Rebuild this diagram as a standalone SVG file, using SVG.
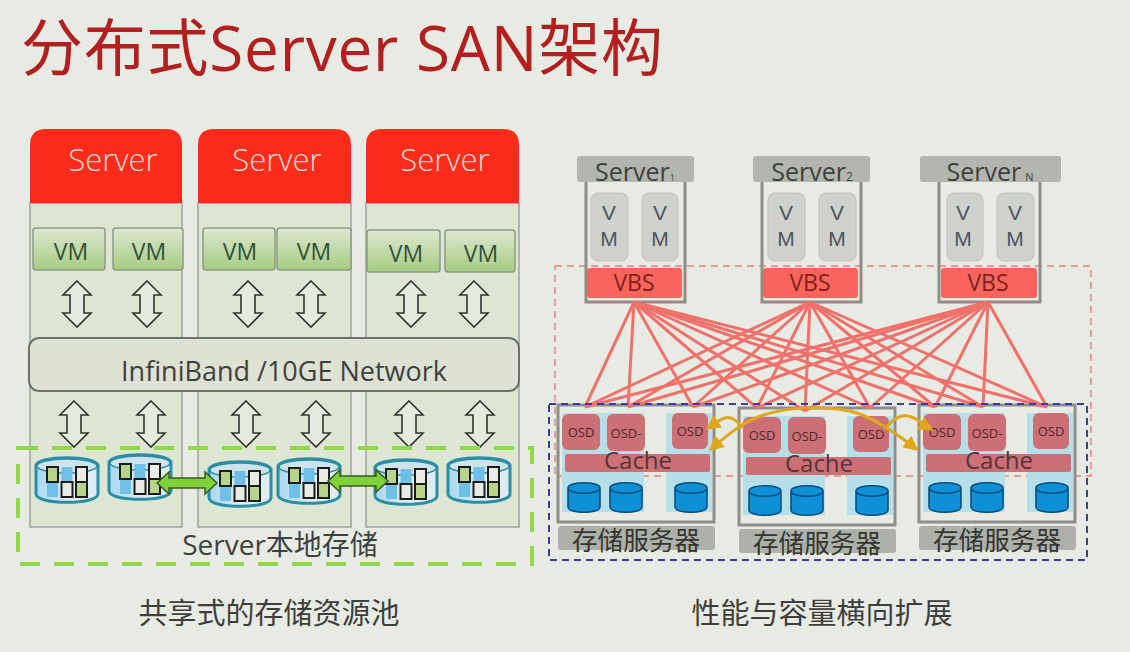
<svg xmlns="http://www.w3.org/2000/svg" width="1130" height="652" viewBox="0 0 1130 652">
<style>
text{font-family:"Open Sans","Noto Sans CJK SC",sans-serif;text-anchor:middle;fill:#3f413d;font-weight:400}
.title{text-anchor:start;font-size:62px;fill:#b31f1f}
.cap{font-size:29px;fill:#3d3f3c}
.hdr{fill:#fb2c1b}
.hdrt{font-size:31px;fill:#fbd8cc;font-weight:300}
.body{fill:#dce6d3;stroke:#9da299;stroke-width:1.5}
.vm{fill:url(#vmg);stroke:#8d9a86;stroke-width:1.5}
.vmt{font-size:23px;fill:#33503a}
.dbl{fill:#e6ebdf;stroke:#33352f;stroke-width:1.6}
.link{fill:#7fd13a;stroke:#3b5a22;stroke-width:1.5}
.gh{fill:#b3b5af}
.frame{fill:none;stroke:#8c8e88;stroke-width:3}
.svm{fill:#cfd1cc;stroke:#bfc1bb}
.svmt{font-family:"Liberation Sans",sans-serif;font-size:21px;fill:#4a5560}
.vbs{fill:#f9645c}
.vbst{font-size:23px;fill:#7c2320}
.net line{stroke:#f0716b;stroke-width:3}
.col{fill:#b7dfe9}
.osd{fill:#cc7076}
.osdt{font-size:13px;fill:#4b2a2e}
.cachet{font-size:24px;fill:#56343a}
.cyl{fill:#0f8fd6;stroke:#0a4f7a;stroke-width:1.6}
.lab{fill:#aeb0aa}
.labt{font-size:25.6px;fill:#333530}
.sync{fill:none;stroke:#dfa71d;stroke-width:3}
.cell{stroke:#1c1c1c;stroke-width:2}
</style>
<defs>
<linearGradient id="vmg" x1="0" y1="0" x2="0" y2="1"><stop offset="0" stop-color="#dfe8d3"/><stop offset="1" stop-color="#a5cc80"/></linearGradient>
<linearGradient id="dg" x1="0" y1="0" x2="1" y2="0"><stop offset="0" stop-color="#a9d8ee"/><stop offset=".6" stop-color="#e6f0f3"/><stop offset="1" stop-color="#dcebf0"/></linearGradient>
<marker id="ah" viewBox="0 0 10 10" refX="8" refY="5" markerWidth="5" markerHeight="5" orient="auto"><path d="M0 0L10 5L0 10Z" fill="#dfa71d"/></marker>
<path id="dbl" class="dbl" d="M0-23L14-9H7V9H14L0 23L-14 9H-7V-9H-14Z"/>
<g id="disk">
<path d="M-31-14V14C-31 25 31 25 31 14V-14C31-25-31-25-31-14Z" fill="url(#dg)" stroke="#2b8ea6" stroke-width="3"/>
<ellipse cx="0" cy="-14" rx="30" ry="7" fill="#cfe3ea" stroke="#2b8ea6" stroke-width="1.5"/>
<rect x="-5.500" y="-13" width="11" height="15" fill="#6fbfe9"/>
<rect x="-20" y="2" width="11" height="15" fill="#6fbfe9"/>
<rect class="cell" x="-20" y="-13" width="11" height="15" fill="#b8d48a"/>
<rect class="cell" x="-5.500" y="2" width="11" height="15" fill="#e8ece4"/>
<rect class="cell" x="9" y="-13" width="11" height="15" fill="#e8ece4"/>
<rect class="cell" x="9" y="2" width="11" height="15" fill="#b8d48a"/>
</g>
<path id="cy" class="cyl" d="M0 5V24C0 31 32 31 32 24V5C32-2 0-2 0 5C0 12 32 12 32 5"/>
<g id="store">
<rect class="col" x="4" y="8" width="82" height="99"/>
<rect class="col" x="108" y="8" width="46" height="99"/>
<rect class="frame" x="0" y="0" width="156" height="117"/>
<rect class="osd" x="4" y="9" width="38" height="36" rx="6"/>
<rect class="osd" x="49" y="9" width="38" height="37" rx="6"/>
<rect class="osd" x="114" y="8" width="36" height="36" rx="6"/>
<text class="osdt" x="23" y="32">OSD</text>
<text class="osdt" x="68" y="33">OSD-</text>
<text class="osdt" x="132" y="31">OSD</text>
<rect class="osd" x="7" y="49" width="145" height="18" rx="2"/>
<text class="cachet" x="80" y="64">Cache</text>
<use href="#cy" x="10" y="78"/>
<use href="#cy" x="52" y="78"/>
<use href="#cy" x="117" y="78"/>
<rect class="lab" x="0" y="121" width="157" height="24" rx="3"/>
<text class="labt" x="78" y="145">存储服务器</text>
</g>
</defs>

<rect width="1130" height="652" fill="#e8ebe4"/>
<text class="title" x="21" y="71" textLength="642">分布式Server SAN架构</text>

<g id="left-server-1">
<rect class="body" x="30" y="203" width="152" height="324"/>
<path class="hdr" d="M30 203V145Q30 129 46 129H166Q182 129 182 145V203Z"/>
<text class="hdrt" x="113" y="171">Server</text>
<rect class="vm" x="33" y="228" width="72" height="42" rx="3"/><text class="vmt" x="71" y="260">VM</text>
<rect class="vm" x="113" y="228" width="70" height="42" rx="3"/><text class="vmt" x="149" y="260">VM</text>
<use href="#dbl" x="77" y="304"/><use href="#dbl" x="147" y="304"/>
</g>
<g id="left-server-2">
<rect class="body" x="198" y="203" width="153" height="324"/>
<path class="hdr" d="M198 203V145Q198 129 214 129H335Q351 129 351 145V203Z"/>
<text class="hdrt" x="277" y="171">Server</text>
<rect class="vm" x="203" y="228" width="72" height="42" rx="3"/><text class="vmt" x="240" y="260">VM</text>
<rect class="vm" x="277" y="228" width="74" height="42" rx="3"/><text class="vmt" x="314" y="260">VM</text>
<use href="#dbl" x="248" y="304"/><use href="#dbl" x="311" y="304"/>
</g>
<g id="left-server-3">
<rect class="body" x="366" y="203" width="153" height="324"/>
<path class="hdr" d="M366 203V145Q366 129 382 129H503Q519 129 519 145V203Z"/>
<text class="hdrt" x="445" y="171">Server</text>
<rect class="vm" x="367" y="230" width="73" height="42" rx="3"/><text class="vmt" x="406" y="262">VM</text>
<rect class="vm" x="445" y="230" width="70" height="42" rx="3"/><text class="vmt" x="481" y="262">VM</text>
<use href="#dbl" x="411" y="304"/><use href="#dbl" x="474" y="304"/>
</g>

<g id="infiniband">
<rect x="29" y="338" width="490" height="53" rx="10" fill="#dde2d5" stroke="#6f726a" stroke-width="2"/>
<text x="284" y="381" style="font-size:27px">InfiniBand /10GE Network</text>
</g>

<g id="local-storage">
<use href="#dbl" x="74" y="424"/><use href="#dbl" x="151" y="424"/>
<use href="#dbl" x="246" y="424"/><use href="#dbl" x="316" y="424"/>
<use href="#dbl" x="409" y="424"/><use href="#dbl" x="480" y="424"/>
<rect x="18" y="448" width="514" height="116" fill="none" stroke="#90d84a" stroke-width="4" stroke-dasharray="20 14"/>
<use href="#disk" x="67" y="480"/><use href="#disk" x="140" y="477"/>
<use href="#disk" x="240" y="484"/><use href="#disk" x="309" y="481"/>
<use href="#disk" x="406" y="482"/><use href="#disk" x="479" y="480"/>
<text x="280" y="555" style="font-size:28px">Server本地存储</text>
</g>

<g id="connectors">
<path class="link" d="M157 483L169 472V478H205V472L217 483L205 494V488H169V494Z"/>
<path class="link" d="M328 481L340 470V476H376V470L388 481L376 492V486H340V492Z"/>
</g>

<text class="cap" x="269" y="624">共享式的存储资源池</text>
<text class="cap" x="822" y="624">性能与容量横向扩展</text>

<rect x="555" y="266" width="536" height="210" fill="none" stroke="#e8807f" stroke-width="1.4" stroke-dasharray="7 5"/>

<g id="storage-1" transform="translate(558,405)"><use href="#store"/></g>
<g id="storage-2" transform="translate(739,408)"><use href="#store"/></g>
<g id="storage-3" transform="translate(919,405)"><use href="#store"/></g>

<g id="vbs-server-1">
<rect class="gh" x="577" y="156" width="117" height="26" rx="3"/>
<path class="frame" d="M586 182V302H685V182"/>
<rect class="svm" x="591" y="193" width="37" height="68" rx="7"/><text class="svmt" x="609" y="220">V</text><text class="svmt" x="609" y="246">M</text>
<rect class="svm" x="642" y="193" width="36" height="68" rx="7"/><text class="svmt" x="660" y="220">V</text><text class="svmt" x="660" y="246">M</text>
<rect class="vbs" x="587" y="268" width="95" height="30" rx="3"/><text class="vbst" x="634" y="291">VBS</text>
<text x="635" y="181" style="font-size:25px">Server<tspan style="font-size:9px">1</tspan></text>
</g>
<g id="vbs-server-2">
<rect class="gh" x="753" y="156" width="117" height="26" rx="3"/>
<path class="frame" d="M762 182V302H861V182"/>
<rect class="svm" x="768" y="193" width="37" height="68" rx="7"/><text class="svmt" x="786" y="220">V</text><text class="svmt" x="786" y="246">M</text>
<rect class="svm" x="819" y="193" width="37" height="68" rx="7"/><text class="svmt" x="837" y="220">V</text><text class="svmt" x="837" y="246">M</text>
<rect class="vbs" x="763" y="268" width="95" height="30" rx="3"/><text class="vbst" x="810" y="291">VBS</text>
<text x="812" y="181" style="font-size:25px">Server<tspan style="font-size:12px">2</tspan></text>
</g>
<g id="vbs-server-n">
<rect class="gh" x="920" y="156" width="141" height="26" rx="3"/>
<path class="frame" d="M939 182V302H1040V182"/>
<rect class="svm" x="947" y="193" width="36" height="68" rx="7"/><text class="svmt" x="963" y="220">V</text><text class="svmt" x="963" y="246">M</text>
<rect class="svm" x="997" y="193" width="37" height="68" rx="7"/><text class="svmt" x="1015" y="220">V</text><text class="svmt" x="1015" y="246">M</text>
<rect class="vbs" x="941" y="268" width="96" height="30" rx="3"/><text class="vbst" x="988" y="291">VBS</text>
<text x="990" y="181" style="font-size:25px">Server<tspan style="font-size:11px" dx="4">N</tspan></text>
</g>

<g id="vbs-links" class="net">
<line x1="634" y1="302" x2="585" y2="407"/><line x1="634" y1="302" x2="628" y2="407"/><line x1="634" y1="302" x2="693" y2="407"/>
<line x1="634" y1="302" x2="757" y2="408"/><line x1="634" y1="302" x2="805" y2="411"/><line x1="634" y1="302" x2="870" y2="408"/>
<line x1="634" y1="302" x2="935" y2="407"/><line x1="634" y1="302" x2="983" y2="407"/><line x1="634" y1="302" x2="1047" y2="407"/>
<line x1="810" y1="302" x2="585" y2="407"/><line x1="810" y1="302" x2="628" y2="407"/><line x1="810" y1="302" x2="693" y2="407"/>
<line x1="810" y1="302" x2="757" y2="408"/><line x1="810" y1="302" x2="805" y2="411"/><line x1="810" y1="302" x2="870" y2="408"/>
<line x1="810" y1="302" x2="935" y2="407"/><line x1="810" y1="302" x2="983" y2="407"/><line x1="810" y1="302" x2="1047" y2="407"/>
<line x1="988" y1="302" x2="585" y2="407"/><line x1="988" y1="302" x2="628" y2="407"/><line x1="988" y1="302" x2="693" y2="407"/>
<line x1="988" y1="302" x2="757" y2="408"/><line x1="988" y1="302" x2="805" y2="411"/><line x1="988" y1="302" x2="870" y2="408"/>
<line x1="988" y1="302" x2="935" y2="407"/><line x1="988" y1="302" x2="983" y2="407"/><line x1="988" y1="302" x2="1047" y2="407"/>
</g>

<g id="replication">
<path class="sync" marker-end="url(#ah)" d="M743 428C737 420 730 416 725 418C718 420 714 424 708 428"/>
<path class="sync" marker-end="url(#ah)" d="M860 414C830 405 790 405 758 417C740 424 725 437 711 449"/>
<path class="sync" marker-end="url(#ah)" d="M860 414C880 422 900 436 916 449"/>
<path class="sync" marker-end="url(#ah)" d="M887 426C893 420 900 414 908 416C918 418 922 424 931 429"/>
</g>

<rect id="scale-out-zone" x="549" y="404" width="538" height="156" fill="none" stroke="#3b3bae" stroke-width="2" stroke-dasharray="7 5"/>
</svg>
